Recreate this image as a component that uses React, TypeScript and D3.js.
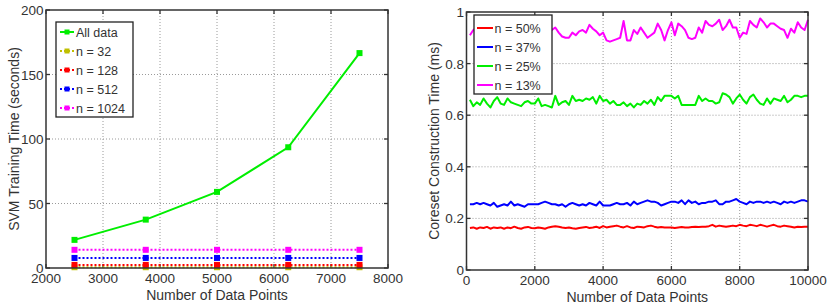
import * as d3 from "d3";

// ---- left panel: SVM training time ----
const trainSizes = [2500, 3750, 5000, 6250, 7500];
const allDataTime = [21.8, 37.5, 59, 93.6, 166.6];
const n32Time = [0.6, 0.6, 0.6, 0.6, 0.6];
const n128Time = [2.4, 2.4, 2.4, 2.4, 2.4];
const n512Time = [7.8, 7.8, 7.8, 7.8, 7.8];
const n1024Time = [14.1, 14.1, 14.1, 14.1, 14.1];
const leftXTicks = [2000, 3000, 4000, 5000, 6000, 7000, 8000];
const leftYTicks = [0, 50, 100, 150, 200];

// ---- right panel: coreset construction time ----
const pointCounts = [
	100, 200, 300, 400, 500, 600, 700, 800, 900, 1000, 1100, 1200, 1300, 1400, 1500, 1600, 1700, 1800, 1900, 2000,
	2100, 2200, 2300, 2400, 2500, 2600, 2700, 2800, 2900, 3000, 3100, 3200, 3300, 3400, 3500, 3600, 3700, 3800, 3900, 4000,
	4100, 4200, 4300, 4400, 4500, 4600, 4700, 4800, 4900, 5000, 5100, 5200, 5300, 5400, 5500, 5600, 5700, 5800, 5900, 6000,
	6100, 6200, 6300, 6400, 6500, 6600, 6700, 6800, 6900, 7000, 7100, 7200, 7300, 7400, 7500, 7600, 7700, 7800, 7900, 8000,
	8100, 8200, 8300, 8400, 8500, 8600, 8700, 8800, 8900, 9000, 9100, 9200, 9300, 9400, 9500, 9600, 9700, 9800, 9900, 10000,
];
const n50 = [
	0.163, 0.165, 0.16, 0.165, 0.163, 0.167, 0.16, 0.165, 0.163, 0.165, 0.16, 0.165, 0.162, 0.168, 0.163, 0.16, 0.165, 0.167, 0.163, 0.162,
	0.165, 0.163, 0.16, 0.165, 0.168, 0.17, 0.168, 0.165, 0.163, 0.165, 0.162, 0.16, 0.163, 0.165, 0.167, 0.163, 0.165, 0.168, 0.163, 0.17,
	0.165, 0.168, 0.17, 0.172, 0.168, 0.165, 0.17, 0.165, 0.163, 0.168, 0.167, 0.165, 0.17, 0.172, 0.168, 0.165, 0.167, 0.165, 0.165, 0.165,
	0.163, 0.165, 0.167, 0.165, 0.165, 0.167, 0.168, 0.167, 0.168, 0.168, 0.17, 0.175, 0.168, 0.172, 0.17, 0.168, 0.17, 0.172, 0.17, 0.175,
	0.172, 0.17, 0.175, 0.173, 0.17, 0.175, 0.172, 0.168, 0.172, 0.175, 0.17, 0.168, 0.172, 0.17, 0.168, 0.165, 0.168, 0.167, 0.168, 0.168,
];
const n37 = [
	0.255, 0.255, 0.26, 0.255, 0.26, 0.255, 0.25, 0.26, 0.245, 0.25, 0.255, 0.25, 0.265, 0.25, 0.255, 0.25, 0.245, 0.255, 0.255, 0.255,
	0.255, 0.26, 0.265, 0.26, 0.255, 0.255, 0.25, 0.255, 0.245, 0.255, 0.26, 0.255, 0.25, 0.255, 0.25, 0.26, 0.255, 0.25, 0.265, 0.25,
	0.25, 0.25, 0.255, 0.26, 0.255, 0.255, 0.26, 0.25, 0.265, 0.255, 0.26, 0.265, 0.27, 0.265, 0.265, 0.26, 0.25, 0.255, 0.26, 0.265,
	0.265, 0.26, 0.27, 0.255, 0.27, 0.26, 0.265, 0.255, 0.26, 0.26, 0.265, 0.265, 0.27, 0.255, 0.255, 0.265, 0.265, 0.27, 0.275, 0.265,
	0.26, 0.255, 0.265, 0.26, 0.265, 0.265, 0.26, 0.265, 0.26, 0.265, 0.26, 0.255, 0.265, 0.26, 0.265, 0.26, 0.265, 0.27, 0.27, 0.265,
];
const n25 = [
	0.66, 0.635, 0.65, 0.64, 0.665, 0.645, 0.63, 0.655, 0.67, 0.645, 0.64, 0.665, 0.65, 0.645, 0.64, 0.635, 0.65, 0.655, 0.645, 0.645,
	0.665, 0.635, 0.64, 0.635, 0.63, 0.675, 0.64, 0.65, 0.655, 0.64, 0.675, 0.655, 0.66, 0.655, 0.665, 0.66, 0.67, 0.645, 0.675, 0.655,
	0.66, 0.645, 0.655, 0.64, 0.64, 0.65, 0.635, 0.645, 0.63, 0.645, 0.64, 0.655, 0.645, 0.66, 0.64, 0.67, 0.655, 0.675, 0.675, 0.675,
	0.665, 0.675, 0.64, 0.64, 0.64, 0.64, 0.64, 0.675, 0.655, 0.665, 0.655, 0.655, 0.645, 0.65, 0.685, 0.68, 0.67, 0.645, 0.665, 0.68,
	0.66, 0.645, 0.67, 0.68, 0.66, 0.645, 0.64, 0.665, 0.645, 0.665, 0.66, 0.655, 0.675, 0.65, 0.66, 0.675, 0.675, 0.67, 0.675, 0.675,
];
const n13 = [
	0.91, 0.93, 0.94, 0.93, 0.95, 0.94, 0.92, 0.94, 0.93, 0.95, 0.93, 0.94, 0.92, 0.94, 0.95, 0.93, 0.94, 0.92, 0.93, 0.95,
	0.94, 0.93, 0.92, 0.94, 0.93, 0.94, 0.92, 0.905, 0.9, 0.9, 0.92, 0.91, 0.925, 0.93, 0.92, 0.95, 0.935, 0.925, 0.91, 0.92,
	0.89, 0.885, 0.89, 0.895, 0.9, 0.965, 0.89, 0.89, 0.93, 0.915, 0.94, 0.92, 0.9, 0.91, 0.92, 0.955, 0.93, 0.89, 0.93, 0.96,
	0.91, 0.955, 0.945, 0.93, 0.9, 0.895, 0.9, 0.94, 0.92, 0.965, 0.95, 0.945, 0.955, 0.97, 0.93, 0.945, 0.97, 0.94, 0.94, 0.9,
	0.92, 0.915, 0.965, 0.95, 0.94, 0.975, 0.96, 0.94, 0.955, 0.955, 0.945, 0.935, 0.93, 0.9, 0.935, 0.92, 0.96, 0.94, 0.93, 0.97,
];
const rightXTicks = [0, 2000, 4000, 6000, 8000, 10000];
const rightYTicks = [0, 0.2, 0.4, 0.6, 0.8, 1];

const FONT = "'Liberation Sans', Arial, Helvetica, sans-serif";
const TEXT = "#333";
const FRAME = "#333";
const GRID = "#9a9a9a";

interface Box {
	x0: number;
	x1: number;
	y0: number;
	y1: number;
}

function Axes({
	box,
	x,
	y,
	xTicks,
	yTicks,
	yFormat,
	xLabel,
	yLabel,
	yLabelX,
}: {
	box: Box;
	x: d3.ScaleLinear<number, number>;
	y: d3.ScaleLinear<number, number>;
	xTicks: number[];
	yTicks: number[];
	yFormat: (v: number) => string;
	xLabel: string;
	yLabel: string;
	yLabelX: number;
}) {
	const tl = 4;
	const midY = (box.y0 + box.y1) / 2;
	return (
		<g fontFamily={FONT} fill={TEXT}>
			{/* grid */}
			{xTicks.slice(1, -1).map((t) => (
				<line
					key={`gx${t}`}
					x1={x(t)}
					x2={x(t)}
					y1={box.y0}
					y2={box.y1}
					stroke={GRID}
					strokeWidth={1}
					strokeDasharray="1,2"
				/>
			))}
			{yTicks.slice(1, -1).map((t) => (
				<line
					key={`gy${t}`}
					x1={box.x0}
					x2={box.x1}
					y1={y(t)}
					y2={y(t)}
					stroke={GRID}
					strokeWidth={1}
					strokeDasharray="1,2"
				/>
			))}
			{/* ticks on all sides */}
			{xTicks.map((t) => (
				<g key={`tx${t}`} stroke={FRAME} strokeWidth={1.3}>
					<line x1={x(t)} x2={x(t)} y1={box.y1} y2={box.y1 - tl} />
					<line x1={x(t)} x2={x(t)} y1={box.y0} y2={box.y0 + tl} />
				</g>
			))}
			{yTicks.map((t) => (
				<g key={`ty${t}`} stroke={FRAME} strokeWidth={1.3}>
					<line x1={box.x0} x2={box.x0 + tl} y1={y(t)} y2={y(t)} />
					<line x1={box.x1} x2={box.x1 - tl} y1={y(t)} y2={y(t)} />
				</g>
			))}
			{xTicks.map((t) => (
				<text key={`lx${t}`} x={x(t)} y={box.y1 + 15} fontSize={13.5} textAnchor="middle">
					{t}
				</text>
			))}
			{yTicks.map((t) => (
				<text key={`ly${t}`} x={box.x0 - 2.5} y={y(t) + 5} fontSize={13.5} textAnchor="end">
					{yFormat(t)}
				</text>
			))}
			<text x={(box.x0 + box.x1) / 2} y={box.y1 + 32} fontSize={14} textAnchor="middle">
				{xLabel}
			</text>
			<text
				x={yLabelX}
				y={midY}
				fontSize={14}
				textAnchor="middle"
				transform={`rotate(-90 ${yLabelX} ${midY})`}
			>
				{yLabel}
			</text>
		</g>
	);
}

function Frame({ box }: { box: Box }) {
	return (
		<rect
			x={box.x0}
			y={box.y0}
			width={box.x1 - box.x0}
			height={box.y1 - box.y0}
			fill="none"
			stroke={FRAME}
			strokeWidth={1.5}
		/>
	);
}

export default function App() {
	const lb: Box = { x0: 46, x1: 388, y0: 10, y1: 268 };
	const rb: Box = { x0: 466.5, x1: 808, y0: 12, y1: 270 };

	const lx = d3.scaleLinear().domain([2000, 8000]).range([lb.x0, lb.x1]);
	const ly = d3.scaleLinear().domain([0, 200]).range([lb.y1, lb.y0]);
	const rx = d3.scaleLinear().domain([0, 10000]).range([rb.x0, rb.x1]);
	const ry = d3.scaleLinear().domain([0, 1]).range([rb.y1, rb.y0]);

	const leftSeries = [
		{ name: "All data", values: allDataTime, color: "#00ee00", dash: undefined },
		{ name: "n = 32", values: n32Time, color: "#bfbf00", dash: "2,2" },
		{ name: "n = 128", values: n128Time, color: "#ff0000", dash: "2,2" },
		{ name: "n = 512", values: n512Time, color: "#0000ff", dash: "2,2" },
		{ name: "n = 1024", values: n1024Time, color: "#ff00ff", dash: "2,2" },
	];
	const rightSeries = [
		{ name: "n = 50%", values: n50, color: "#ff0000" },
		{ name: "n = 37%", values: n37, color: "#0000ff" },
		{ name: "n = 25%", values: n25, color: "#00ee00" },
		{ name: "n = 13%", values: n13, color: "#ff00ff" },
	];

	const leftLine = (vals: number[]) =>
		d3
			.line<number>()
			.x((_, i) => lx(trainSizes[i]))
			.y((v) => ly(v))(vals) ?? "";
	const rightLine = (vals: number[]) =>
		d3
			.line<number>()
			.x((_, i) => rx(pointCounts[i]))
			.y((v) => ry(v))(vals) ?? "";

	const ms = 6;

	return (
		<svg
			width={831}
			height={304}
			style={{ position: "absolute", left: 0, top: 0, background: "#fff" }}
		>
			<rect width={831} height={304} fill="#fff" />

			{/* left panel */}
			<Axes
				box={lb}
				x={lx}
				y={ly}
				xTicks={leftXTicks}
				yTicks={leftYTicks}
				yFormat={(v) => String(v)}
				xLabel="Number of Data Points"
				yLabel="SVM Training Time (seconds)"
				yLabelX={19}
			/>
			{leftSeries.map((s) => (
				<g key={s.name}>
					<path
						d={leftLine(s.values)}
						fill="none"
						stroke={s.color}
						strokeWidth={2}
						strokeDasharray={s.dash}
					/>
					{s.values.map((v, i) => (
						<rect
							key={i}
							x={lx(trainSizes[i]) - ms / 2}
							y={ly(v) - ms / 2}
							width={ms}
							height={ms}
							fill={s.color}
						/>
					))}
				</g>
			))}
			<Frame box={lb} />
			<g fontFamily={FONT}>
				<rect x={56} y={22} width={77} height={95} fill="#fff" stroke="#222" strokeWidth={1.3} />
				{leftSeries.map((s, i) => {
					const yy = 32 + i * 19;
					return (
						<g key={s.name}>
							<line
								x1={60}
								x2={74}
								y1={yy}
								y2={yy}
								stroke={s.color}
								strokeWidth={2}
								strokeDasharray={s.dash}
							/>
							<rect x={64.5} y={yy - 2.5} width={5} height={5} fill={s.color} />
							<text x={76} y={yy + 4.5} fontSize={12.5} fill={TEXT}>
								{s.name}
							</text>
						</g>
					);
				})}
			</g>

			{/* right panel */}
			<Axes
				box={rb}
				x={rx}
				y={ry}
				xTicks={rightXTicks}
				yTicks={rightYTicks}
				yFormat={(v) => (v === 0 || v === 1 ? String(v) : v.toFixed(1))}
				xLabel="Number of Data Points"
				yLabel="Coreset Construction Time (ms)"
				yLabelX={439}
			/>
			{rightSeries.map((s) => (
				<path
					key={s.name}
					d={rightLine(s.values)}
					fill="none"
					stroke={s.color}
					strokeWidth={2}
					strokeLinejoin="round"
				/>
			))}
			<Frame box={rb} />
			<g fontFamily={FONT}>
				<rect x={474} y={15} width={78} height={79} fill="#fff" stroke="#222" strokeWidth={1.3} />
				{rightSeries.map((s, i) => {
					const yy = 28 + i * 19;
					return (
						<g key={s.name}>
							<line x1={477} x2={493} y1={yy} y2={yy} stroke={s.color} strokeWidth={2} />
							<text x={494.5} y={yy + 4.5} fontSize={12.5} fill={TEXT}>
								{s.name}
							</text>
						</g>
					);
				})}
			</g>
		</svg>
	);
}
